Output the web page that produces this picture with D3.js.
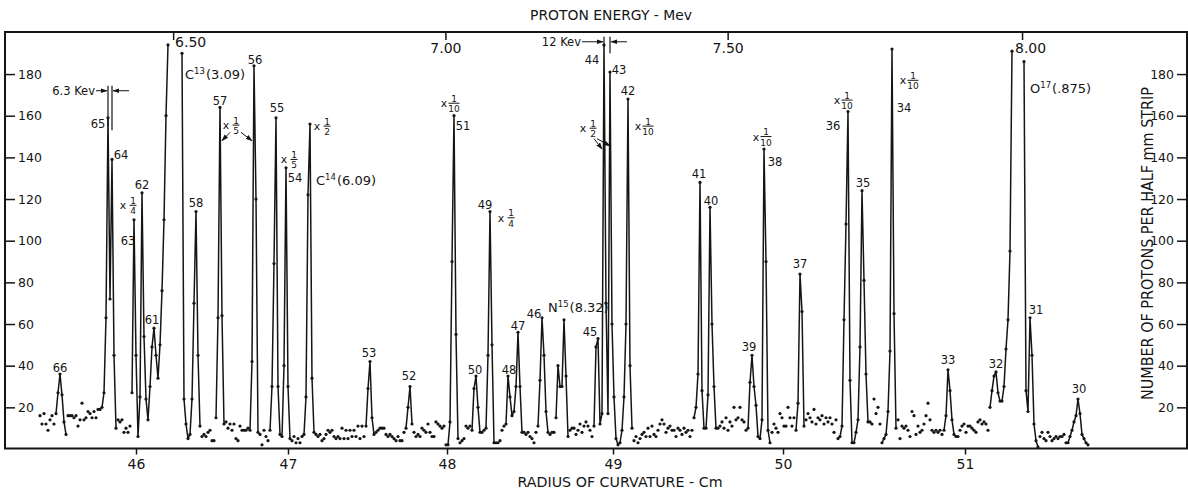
<!DOCTYPE html>
<html>
<head>
<meta charset="utf-8">
<script src="https://cdn.jsdelivr.net/npm/d3@7"></script>
<style>
body { margin: 0; background: #fff; }
svg text { font-family: "DejaVu Sans", sans-serif; fill: #151515; }
</style>
</head>
<body>
<script>
var w = 1188;
var h = 493;
var ink = "#151515";

// protons counted in each half-mm strip, strip 0 at the left end of the plate
// null = off scale (peak top not plotted)
var counts = [
16,12,17,12,9,14,16,12,17,27,
36,26,13,7,16,16,16,15,16,11,
14,22,14,15,18,17,15,18,15,19,
19,20,27,63,159,72,139,45,10,14,
13,14,8,10,8,11,27,110,45,6,
25,123,54,24,14,30,49,58,45,34,
50,76,110,160,194,null,null,null,null,null,
null,190,24,12,5,7,24,70,114,45,
11,6,7,6,8,9,4,4,15,63,
164,64,12,13,10,12,9,12,5,4,
11,9,9,9,10,9,42,184,120,8,
7,2,9,6,4,9,30,89,159,30,
7,6,40,135,30,5,4,6,3,5,
3,6,7,25,122,156,34,8,7,6,
7,4,5,7,9,8,9,6,5,6,
5,10,5,9,5,9,6,9,6,11,
5,11,6,11,29,42,15,7,8,9,
10,10,10,7,6,7,6,5,4,6,
4,4,8,10,20,30,12,8,6,7,
6,10,9,8,12,8,6,6,13,12,
11,10,11,2,2,13,90,160,55,5,
3,4,5,11,10,11,9,29,35,20,
8,8,9,10,45,114,50,3,3,3,
4,9,11,12,35,25,16,18,30,56,
30,8,8,7,8,6,5,3,8,11,
33,63,45,18,8,7,8,8,15,40,
30,30,62,35,6,9,10,10,7,9,
12,8,11,13,11,9,6,11,49,53,
12,17,194,70,17,181,60,25,5,2,
3,9,25,60,168,40,10,4,6,3,
5,7,8,6,10,6,11,7,6,9,
12,14,12,8,10,11,9,9,6,10,
9,7,10,8,9,6,9,15,20,36,
128,28,10,10,26,116,60,30,10,10,
11,13,10,15,9,13,11,20,14,15,
20,14,13,9,10,32,45,30,21,6,
5,14,144,90,9,3,8,12,10,8,
17,15,11,11,20,15,11,15,9,22,
84,66,11,14,17,15,13,19,12,15,
14,16,12,15,13,15,12,8,14,5,
6,11,62,108,162,33,3,3,8,14,
49,124,81,36,13,13,12,24,17,20,
12,3,5,7,18,47,192,65,10,14,
5,11,10,11,9,6,18,16,7,11,
8,9,12,16,22,14,9,8,9,8,
9,7,9,16,38,28,14,7,6,6,
9,11,12,8,11,11,10,9,8,13,
14,12,13,12,9,20,28,35,37,27,
23,23,30,48,62,95,191,null,null,null,
null,null,186,28,18,63,45,12,4,1,
6,8,5,4,8,6,4,5,6,5,
6,6,7,3,3,6,9,13,16,24,
17,7,5,3,2
];

// strip ranges joined by a line (the peaks)
var traces = [[8,13],[31,38],[46,64],[71,80],[88,92],[105,109],[115,125],[131,137],
  [163,167],[183,186],[204,209],[216,220],[223,227],[233,241],[249,254],[258,264],
  [277,296],[327,338],[354,365],[378,382],[399,416],[421,428],[452,458],[475,499],[514,524]];

// radius of curvature (cm) against strip number
var radiusCal = [45, 46, 47, 48, 49, 50, 51, 52];
var radiusCalStrip = [-25, 48, 124, 203.5, 286.5, 371.5, 462.5, 556.5];
var radiusTicks = [46, 47, 48, 49, 50, 51];

// proton energy goes as radius squared; 7.00 Mev sits at 47.99 cm
var energyTicks = [6.50, 7.00, 7.50, 8.00];
var rho7 = 47.99;

var countTicks = [20, 40, 60, 80, 100, 120, 140, 160, 180];

// group numbers: [label, strip, count]
var peakLabels = [
  ["66",10,39],["65",29,156],["64",40.5,141],["63",44,100],["62",51,127],["61",56,62],
  ["58",78,118],["57",90,167],["56",107.5,187],["55",118.5,164],["54",127.5,130],
  ["53",164.5,46],["52",184.5,35],["51",211.5,155],["50",217.5,38],["49",222.5,117],
  ["48",234.5,38],["47",239,59],["46",247,65],["45",275,56],["44",276,187],
  ["43",289.5,182],["42",294,172],["41",329.5,132],["40",335.5,119],["39",354.5,49],
  ["38",367.5,138],["37",380,89],["36",396.5,155],["35",411.5,128],["34",432,164],
  ["33",454,43],["32",478,41],["31",498,67],["30",519.5,29]
];

// residual levels: [element, mass, excitation, strip, count]
var levelLabels = [
  ["C","13","(3.09)",72.5,180],
  ["C","14","(6.09)",138,129],
  ["N","15","(8.32)",254,68],
  ["O","17","(.875)",495,173]
];

// plotted reduced by: [denominator, strip, count]
var reductions = [
  [4,46.5,117],[5,98,155.5],[5,127,139],[2,143.5,155],[10,207,166],[4,235.5,111],
  [2,276.5,154],[10,304,155],[10,363,150],[10,403.5,167.5],[10,436.5,177]
];
// leader lines from a reduction to its peaks: [strip0, count0, strip1, count1]
var pointers = [[95,152,91,148],[100.5,152,106,148],[277,149,281,144],[278.5,149,285,145.5]];

// resolution markers: [text, text end strip, count, left bar strip, right bar strip, bar low counts]
var widths = [
  ["6.3 Kev", 27.5, 172, 34, 36, 155, 153],
  ["12 Kev", 270.5, 195.5, 282, 285, 193, 190]
];

var svg = d3.select("body").append("svg").attr("width", w).attr("height", h);

var x = d3.scaleLinear().domain([-17.5, 573.5]).range([5, 1187]);
var y = d3.scaleLinear().domain([0, 200]).range([449, 32.4]);
var rScale = d3.scaleLinear().domain(radiusCal).range(radiusCalStrip.map(x));
var eScale = d3.scaleLinear().domain(energyTicks)
  .range(energyTicks.map(function(e){ return rScale(rho7 * Math.sqrt(e / 7)); }));

svg.append("defs").append("marker")
  .attr("id", "head").attr("viewBox", "0 0 10 10").attr("refX", 9).attr("refY", 5)
  .attr("markerWidth", 7).attr("markerHeight", 7).attr("orient", "auto")
  .append("path").attr("d", "M0,1.5L10,5L0,8.5z").attr("fill", ink);

var styleAxis = function(g, size){
  g.select(".domain").remove();
  g.attr("font-family", null);
  g.selectAll("line").attr("stroke", ink).attr("stroke-width", 1.5);
  g.selectAll("text").attr("fill", ink).attr("font-size", size);
};

// lower scale: radius of curvature
svg.append("g").attr("transform", "translate(0,448.5)")
  .call(d3.axisBottom(rScale).tickValues(radiusTicks).tickSize(6).tickPadding(5).tickFormat(d3.format("d")))
  .call(styleAxis, 14);

// upper scale: proton energy, ticks hang inside the frame
var topAxis = svg.append("g").attr("transform", "translate(0,32)")
  .call(d3.axisBottom(eScale).tickValues(energyTicks).tickSize(8).tickPadding(3).tickFormat(d3.format(".2f")))
  .call(styleAxis, 14);
topAxis.selectAll(".tick text")
  .attr("dx", function(d, i){ return [17, 0, 0, 8][i]; })
  .attr("y", function(d, i){ return i == 0 ? 5 : 11; });

svg.append("g").attr("transform", "translate(5,0)")
  .call(d3.axisRight(y).tickValues(countTicks).tickSize(10).tickPadding(3))
  .call(styleAxis, 12.5);
svg.append("g").attr("transform", "translate(1187,0)")
  .call(d3.axisLeft(y).tickValues(countTicks).tickSize(10).tickPadding(3))
  .call(styleAxis, 12.5);

svg.append("rect").attr("x", 5).attr("y", 32).attr("width", 1182).attr("height", 416.5)
  .attr("fill", "none").attr("stroke", ink).attr("stroke-width", 2);

// data
var pts = counts.map(function(n, i){ return {i: i, n: n}; });
var line = d3.line()
  .defined(function(d){ return d.n != null; })
  .x(function(d){ return x(d.i); })
  .y(function(d){ return y(d.n); });

svg.selectAll("path.trace").data(traces).enter().append("path")
  .attr("class", "trace")
  .attr("d", function(t){ return line(pts.slice(t[0], t[1] + 1)); })
  .attr("fill", "none").attr("stroke", ink).attr("stroke-width", 1.5)
  .attr("stroke-linejoin", "round");

svg.selectAll("circle.pt").data(pts.filter(function(d){ return d.n != null; })).enter()
  .append("circle").attr("class", "pt")
  .attr("cx", function(d){ return x(d.i); })
  .attr("cy", function(d){ return y(d.n); })
  .attr("r", 1.6).attr("fill", ink);

// labels
svg.selectAll("text.peak").data(peakLabels).enter().append("text")
  .attr("class", "peak")
  .attr("x", function(d){ return x(d[1]); })
  .attr("y", function(d){ return y(d[2]); })
  .attr("dy", "0.36em").attr("text-anchor", "middle").attr("font-size", 11.5)
  .text(function(d){ return d[0]; });

levelLabels.forEach(function(d){
  var t = svg.append("text").attr("x", x(d[3])).attr("y", y(d[4])).attr("dy", "0.36em")
    .attr("font-size", 13);
  t.append("tspan").text(d[0]);
  t.append("tspan").attr("font-size", 8.5).attr("dy", -5).text(d[1]);
  t.append("tspan").attr("dy", 5).attr("dx", 1).text(d[2]);
});

reductions.forEach(function(d){
  var cx = x(d[1]), cy = y(d[2]);
  var half = d[0] >= 10 ? 5.5 : 3.5;
  svg.append("text").attr("x", cx - 10).attr("y", cy + 4).attr("text-anchor", "middle")
    .attr("font-size", 11).text("x");
  svg.append("line").attr("x1", cx - half).attr("x2", cx + half).attr("y1", cy).attr("y2", cy)
    .attr("stroke", ink).attr("stroke-width", 1);
  svg.append("text").attr("x", cx).attr("y", cy - 1.5).attr("text-anchor", "middle")
    .attr("font-size", 9).text("1");
  svg.append("text").attr("x", cx).attr("y", cy + 9).attr("text-anchor", "middle")
    .attr("font-size", 9).text(d[0]);
});

svg.selectAll("line.pointer").data(pointers).enter().append("line")
  .attr("class", "pointer")
  .attr("x1", function(d){ return x(d[0]); }).attr("y1", function(d){ return y(d[1]); })
  .attr("x2", function(d){ return x(d[2]); }).attr("y2", function(d){ return y(d[3]); })
  .attr("stroke", ink).attr("stroke-width", 1).attr("marker-end", "url(#head)");

widths.forEach(function(d){
  var yy = y(d[2]);
  svg.append("text").attr("x", x(d[1])).attr("y", yy).attr("dy", "0.36em")
    .attr("text-anchor", "end").attr("font-size", 11.5).text(d[0]);
  svg.append("line").attr("x1", x(d[1]) + 1).attr("x2", x(d[3]) - 1).attr("y1", yy).attr("y2", yy)
    .attr("stroke", ink).attr("stroke-width", 1).attr("marker-end", "url(#head)");
  svg.append("line").attr("x1", x(d[4]) + 17).attr("x2", x(d[4]) + 1).attr("y1", yy).attr("y2", yy)
    .attr("stroke", ink).attr("stroke-width", 1).attr("marker-end", "url(#head)");
  svg.append("line").attr("x1", x(d[3])).attr("x2", x(d[3])).attr("y1", yy - 5).attr("y2", y(d[5]))
    .attr("stroke", ink).attr("stroke-width", 1.2);
  svg.append("line").attr("x1", x(d[4])).attr("x2", x(d[4])).attr("y1", yy - 5).attr("y2", y(d[6]))
    .attr("stroke", ink).attr("stroke-width", 1.2);
});

// axis titles
svg.append("text").attr("x", 611).attr("y", 19.5).attr("text-anchor", "middle")
  .attr("font-size", 13.5).attr("textLength", 162).attr("lengthAdjust", "spacingAndGlyphs")
  .text("PROTON ENERGY - Mev");
svg.append("text").attr("x", 620).attr("y", 487).attr("text-anchor", "middle")
  .attr("font-size", 13.5).attr("textLength", 205).attr("lengthAdjust", "spacingAndGlyphs")
  .text("RADIUS OF CURVATURE - Cm");
svg.append("text").attr("transform", "translate(1148,243.5) rotate(-90)")
  .attr("dy", "0.36em").attr("text-anchor", "middle").attr("font-size", 15)
  .attr("textLength", 313).attr("lengthAdjust", "spacingAndGlyphs")
  .text("NUMBER OF PROTONS PER HALF mm STRIP");
</script>
</body>
</html>
